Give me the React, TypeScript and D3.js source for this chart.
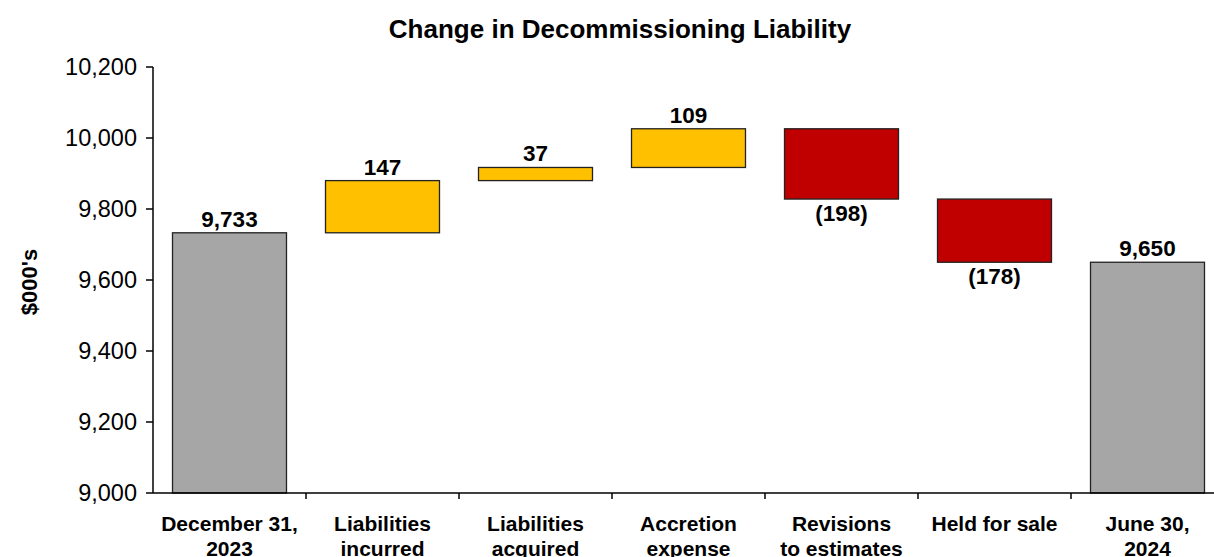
import React from "react";
import * as d3 from "d3";

const categories: string[][] = [
  ["December 31,", "2023"],
  ["Liabilities", "incurred"],
  ["Liabilities", "acquired"],
  ["Accretion", "expense"],
  ["Revisions", "to estimates"],
  ["Held for sale"],
  ["June 30,", "2024"],
];
const startValue = 9733;
const changes = [147, 37, 109, -198, -178];
const endValue = 9650;
const yTicks = [9000, 9200, 9400, 9600, 9800, 10000, 10200];

const W = 1214;
const H = 557;
const FONT = "'Liberation Sans', Arial, sans-serif";

export default function App() {
  const x = d3
    .scaleBand<number>()
    .domain(categories.map((_, i) => i))
    .range([153, 1224])
    .paddingInner(0.255)
    .paddingOuter(0.1275);
  const y = d3.scaleLinear().domain([9000, 10200]).range([493, 67]);
  const fmt = d3.format(",");

  type Bar = { lo: number; hi: number; kind: "total" | "up" | "down"; label: string };
  const bars: Bar[] = [];
  bars.push({ lo: 9000, hi: startValue, kind: "total", label: fmt(startValue) });
  let run = startValue;
  changes.forEach((c) => {
    const next = run + c;
    bars.push({
      lo: Math.min(run, next),
      hi: Math.max(run, next),
      kind: c >= 0 ? "up" : "down",
      label: c >= 0 ? fmt(c) : `(${fmt(-c)})`,
    });
    run = next;
  });
  bars.push({ lo: 9000, hi: endValue, kind: "total", label: fmt(endValue) });

  const colors = { total: "#a6a6a6", up: "#ffc000", down: "#c00000" };
  const bw = x.bandwidth();

  return (
    <svg
      width={W}
      height={H}
      style={{ position: "absolute", left: 0, top: 0, display: "block" }}
      fontFamily={FONT}
    >
      <rect x={0} y={0} width={W} height={H} fill="#fff" />
      <text x={620} y={38} textAnchor="middle" fontWeight="bold" fontSize={26}>
        Change in Decommissioning Liability
      </text>
      <text
        transform={`translate(37,282) rotate(-90)`}
        textAnchor="middle"
        fontWeight="bold"
        fontSize={22}
      >
        $000's
      </text>

      {bars.map((b, i) => (
        <rect
          key={i}
          x={x(i)!}
          y={y(b.hi)}
          width={bw}
          height={y(b.lo) - y(b.hi)}
          fill={colors[b.kind]}
          stroke="#222"
          strokeWidth={1.3}
        />
      ))}
      {bars.map((b, i) => (
        <text
          key={"l" + i}
          x={x(i)! + bw / 2}
          y={b.kind === "down" ? y(b.lo) + 22 : y(b.hi) - 6}
          textAnchor="middle"
          fontWeight="bold"
          fontSize={22.5}
        >
          {b.label}
        </text>
      ))}

      {/* y axis */}
      <line x1={153} x2={153} y1={67} y2={493} stroke="#000" strokeWidth={1.5} />
      {yTicks.map((t) => (
        <g key={t}>
          <line x1={146} x2={153} y1={y(t)} y2={y(t)} stroke="#000" strokeWidth={1.5} />
          <text x={137} y={y(t) + 8} textAnchor="end" fontSize={23.5}>
            {fmt(t)}
          </text>
        </g>
      ))}

      {/* x axis */}
      <line x1={153} x2={1224} y1={493} y2={493} stroke="#000" strokeWidth={1.5} />
      {categories.map((_, i) => (
        <line
          key={"t" + i}
          x1={153 + x.step() * (i + 1)}
          x2={153 + x.step() * (i + 1)}
          y1={493}
          y2={499}
          stroke="#000"
          strokeWidth={1.5}
        />
      ))}
      {categories.map((lines, i) => (
        <text
          key={"c" + i}
          x={x(i)! + bw / 2}
          textAnchor="middle"
          fontWeight="bold"
          fontSize={21}
        >
          {lines.map((ln, j) => (
            <tspan key={j} x={x(i)! + bw / 2} y={531 + j * 25}>
              {ln}
            </tspan>
          ))}
        </text>
      ))}
    </svg>
  );
}
